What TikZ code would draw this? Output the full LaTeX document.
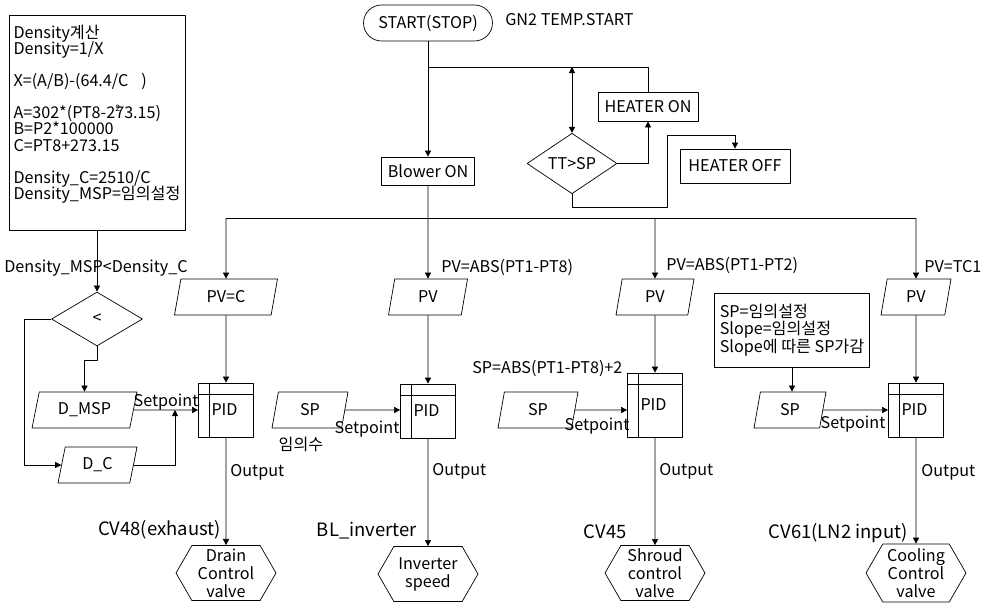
\documentclass[tikz,border=0pt]{standalone}
\usepackage{fontspec}
\setmainfont{Noto Sans CJK KR}
\usetikzlibrary{arrows.meta,shapes.geometric,shapes.symbols}
\tikzset{blk/.style={draw,rectangle,inner sep=1pt},
  io/.style={draw,trapezium,trapezium left angle=68,trapezium right angle=112,trapezium stretches body,minimum height=0.72cm,inner sep=1pt},
  cond/.style={draw,diamond,minimum width=1.8cm,minimum height=1.07cm,inner sep=0pt},
  pidbox/.style={draw,minimum width=1.1cm,minimum height=1.08cm,text width=0.58cm,inner xsep=0.26cm,inner ysep=0pt,align=left,
    path picture={\draw ([xshift=0.22cm]path picture bounding box.north west) -- ([xshift=0.22cm]path picture bounding box.south west);
      \draw ([yshift=-0.22cm]path picture bounding box.north west) -- ([yshift=-0.22cm]path picture bounding box.north east);}},
  valve/.style={draw,signal,signal to=west and east,signal pointer angle=120,minimum width=2cm,minimum height=1.1cm,inner sep=0pt,align=center},
  lbl/.style={inner sep=0pt},
  tag/.style={inner sep=0pt,font=\fontsize{10.5}{12}\selectfont},
  note/.style={blk,align=left,font={\fontsize{9.2}{9.13}\selectfont\lineskiplimit=-10pt}}}

\begin{document}
\begin{tikzpicture}[x=0.02cm,y=-0.02cm,>={Triangle[length=3.5pt,width=3.5pt]},line join=round,font=\fontsize{9.2}{10.2}\selectfont]
\useasboundingbox (0,0) rectangle (984,605);
% --- start, blower and heater loop
\node[blk,rounded corners=0.36cm,minimum width=2.58cm,minimum height=0.72cm] (start) at (428,23) {START(STOP)};
\node[lbl,anchor=west] (gn2) at (505,20) {GN2 TEMP.START};
\node[blk,minimum width=1.86cm,minimum height=0.56cm] (blower) at (428,171) {Blower ON};
\node[cond] (tt) at (572,163.5) {TT>SP};
\node[blk,minimum width=2cm,minimum height=0.58cm] (hon) at (648,106.5) {HEATER ON};
\node[blk,minimum width=2.2cm,minimum height=0.68cm] (hoff) at (735,166) {HEATER OFF};
\coordinate (j1) at (428,67); \coordinate (j2) at (572,67); \coordinate (hk) at (667,135);
\draw[->] (start) -- (blower);
\draw (j1) -- (j2);
\draw[<->] (j2) -- (tt);
\draw[->] (tt.east) -| (hon);
\draw (hon) |- (j2);
\draw[->] (tt.south) -- ++(0,13) -| (hk) -| (hoff);
% --- distribution line
\coordinate (b1) at (226,218); \coordinate (b3) at (655,218); \coordinate (b4) at (916,218);
\draw (b1) -- (b4);
% --- density calculation (left)
\node[note,anchor=north,minimum width=3.52cm,inner ysep=0.2cm] (calc) at (97,15) {Density계산\\
Density=1/X\\[9.13pt]
X=(A/B)-(64.4/C\hspace{0.8em})\\[9.13pt]
A=302*(PT8-2\rlap{\raisebox{0.9ex}{\tiny 2}}73.15)\\
B=P2*100000\\
C=PT8+273.15\\[9.13pt]
Density\_C=2510/C\\
Density\_MSP=임의설정\\[0.1cm]\mbox{}};
\node[lbl] (cmplbl) at (96,268) {Density\_MSP<Density\_C};
\node[cond,minimum width=1.82cm,minimum height=1.08cm] (cmp) at (97,319) {<};
\node[io,minimum width=2.1cm] (dmsp) at (84.5,410) {D\_MSP};
\node[io,minimum width=1.58cm] (dc) at (97.5,465) {D\_C};
\coordinate (sj) at (175,410);
\draw[->] (calc) -- (cmp);
\draw[->] (cmp.south) -- ++(0,14) -| (dmsp);
\draw[->] (cmp.west) -- ++(-27,0) |- (dc);
\draw[->] (dc) -| (sj);
% --- column 1: exhaust
\node[io,minimum width=2.06cm] (pv1) at (226,297) {PV=C};
\node[pidbox] (pid1) at (226,410) {PID};
\node[valve] (v1) at (226,573) {Drain\\Control\\valve};
\node[lbl] (set1) at (166,402) {Setpoint};
\node[lbl,anchor=west] (out1) at (230,472) {Output};
\node[tag,anchor=east] (cv48) at (221,530) {CV48(exhaust)};
\draw[->] (b1) -- (pv1);
\draw[->] (pv1) -- (pid1);
\draw[->] (dmsp) -- (pid1);
\draw[->] (pid1) -- (v1);
% --- column 2: blower inverter
\node[lbl,anchor=west] (pvt2) at (441,267) {PV=ABS(PT1-PT8)};
\node[io,minimum width=1.58cm] (pv2) at (428,297) {PV};
\node[pidbox] (pid2) at (428,411) {PID};
\node[io,minimum width=1.52cm] (sp2) at (310,410) {SP};
\node[lbl] (set2) at (367,429) {Setpoint};
\node[lbl] (rnd2) at (301,444) {임의수};
\node[lbl,anchor=west] (out2) at (432,471) {Output};
\node[tag,anchor=east] (blinv) at (417,531) {BL\_inverter};
\node[valve] (v2) at (428,574) {Inverter\\speed};
\draw[->] (blower) -- (pv2);
\draw[->] (pv2) -- (pid2);
\draw[->] (sp2) -- (sp2 -| pid2.west);
\draw[->] (pid2) -- (v2);
% --- column 3: shroud
\node[lbl,anchor=west] (pvt3) at (666,265) {PV=ABS(PT1-PT2)};
\node[io,minimum width=1.56cm] (pv3) at (655,297) {PV};
\node[lbl,anchor=west] (spt3) at (472,368) {SP=ABS(PT1-PT8)+2};
\node[io,minimum width=1.6cm] (sp3) at (538,410) {SP};
\node[pidbox,minimum height=1.28cm] (pid3) at (655,405) {PID};
\node[lbl] (set3) at (597,426) {Setpoint};
\node[lbl,anchor=west] (out3) at (659,471) {Output};
\node[tag,anchor=east] (cv45) at (627,532) {CV45};
\node[valve] (v3) at (655,573) {Shroud\\control\\valve};
\draw[->] (b3) -- (pv3);
\draw[->] (pv3) -- (pid3);
\draw[->] (sp3) -- (sp3 -| pid3.west);
\draw[->] (pid3) -- (v3);
% --- column 4: cooling
\node[lbl,anchor=west] (pvt4) at (924,267) {PV=TC1};
\node[io,minimum width=1.4cm] (pv4) at (916,297) {PV};
\node[note,minimum width=3.1cm,minimum height=1.48cm,font={\fontsize{9.2}{9.9}\selectfont\lineskiplimit=-10pt}] (spbox) at (792,330) {SP=임의설정\\Slope=임의설정\\Slope에 따른 SP가감};
\node[io,minimum width=1.44cm] (sp4) at (790,410) {SP};
\node[pidbox] (pid4) at (916,410) {PID};
\node[lbl] (set4) at (853,424) {Setpoint};
\node[lbl,anchor=west] (out4) at (921,472) {Output};
\node[tag,anchor=east] (cv61) at (908,533) {CV61(LN2 input)};
\node[valve,minimum height=1.16cm] (v4) at (916,573) {Cooling\\Control\\valve};
\draw[->] (b4) -- (pv4);
\draw[->] (spbox.south) -- (spbox.south |- sp4.north);
\draw[->] (pv4) -- (pid4);
\draw[->] (sp4) -- (sp4 -| pid4.west);
\draw[->] (pid4) -- (v4);
\end{tikzpicture}
\end{document}
